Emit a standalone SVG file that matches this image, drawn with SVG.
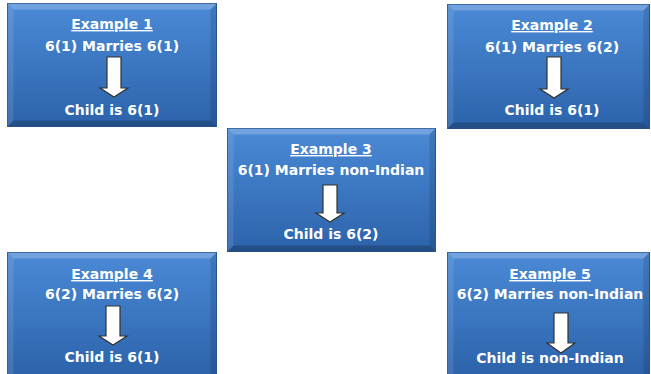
<svg xmlns="http://www.w3.org/2000/svg" width="651" height="374" viewBox="0 0 651 374">
<defs>
<linearGradient id="g" x1="0" y1="0" x2="0" y2="1">
<stop offset="0" stop-color="#4b8ad6"/>
<stop offset="1" stop-color="#2c63ab"/>
</linearGradient>
<style>
.box{fill:url(#g);stroke:#2a5a98;stroke-width:1}
.bt{fill:#ffffff;fill-opacity:0.22}
.bl{fill:#ffffff;fill-opacity:0.1}
.br{fill:#000000;fill-opacity:0.12}
.bb{fill:#000000;fill-opacity:0.22}
text{font-family:"DejaVu Sans",Verdana,sans-serif;font-weight:bold;font-size:14px;fill:#ffffff;text-anchor:middle}
.t{text-decoration:underline}
.arr{fill:#ffffff;stroke:#333333;stroke-width:1.2;stroke-linejoin:miter}
</style>
</defs>
<rect width="651" height="374" fill="#ffffff"/>
<g id="ex1">
<rect class="box" x="7.5" y="3.5" width="209" height="123"/>
<polygon class="bt" points="7.5,3.5 216.5,3.5 210.5,9.5 13.5,9.5"/>
<polygon class="bl" points="7.5,3.5 13.5,9.5 13.5,120.5 7.5,126.5"/>
<polygon class="br" points="216.5,3.5 216.5,126.5 210.5,120.5 210.5,9.5"/>
<polygon class="bb" points="7.5,126.5 13.5,120.5 210.5,120.5 216.5,126.5"/>
<text class="t" x="112" y="29">Example 1</text>
<text x="112" y="51">6(1) Marries 6(1)</text>
<path class="arr" d="M107,57 H121 V88 H128 L114,97 L100,88 H107 Z"/>
<text x="112" y="115">Child is 6(1)</text>
</g>
<g id="ex2">
<rect class="box" x="447.5" y="4.5" width="202" height="124"/>
<polygon class="bt" points="447.5,4.5 649.5,4.5 643.5,10.5 453.5,10.5"/>
<polygon class="bl" points="447.5,4.5 453.5,10.5 453.5,122.5 447.5,128.5"/>
<polygon class="br" points="649.5,4.5 649.5,128.5 643.5,122.5 643.5,10.5"/>
<polygon class="bb" points="447.5,128.5 453.5,122.5 643.5,122.5 649.5,128.5"/>
<text class="t" x="552" y="30">Example 2</text>
<text x="552" y="52">6(1) Marries 6(2)</text>
<path class="arr" d="M547,57 H561 V89 H568 L554,98 L540,89 H547 Z"/>
<text x="552" y="115">Child is 6(1)</text>
</g>
<g id="ex3">
<rect class="box" x="227.5" y="128.5" width="208" height="123"/>
<polygon class="bt" points="227.5,128.5 435.5,128.5 429.5,134.5 233.5,134.5"/>
<polygon class="bl" points="227.5,128.5 233.5,134.5 233.5,245.5 227.5,251.5"/>
<polygon class="br" points="435.5,128.5 435.5,251.5 429.5,245.5 429.5,134.5"/>
<polygon class="bb" points="227.5,251.5 233.5,245.5 429.5,245.5 435.5,251.5"/>
<text class="t" x="331" y="154">Example 3</text>
<text x="331" y="175">6(1) Marries non-Indian</text>
<path class="arr" d="M323,185 H337 V213 H344 L330,222 L316,213 H323 Z"/>
<text x="331" y="239">Child is 6(2)</text>
</g>
<g id="ex4">
<rect class="box" x="7.5" y="252.5" width="209" height="122"/>
<polygon class="bt" points="7.5,252.5 216.5,252.5 210.5,258.5 13.5,258.5"/>
<polygon class="bl" points="7.5,252.5 13.5,258.5 13.5,374 7.5,374"/>
<polygon class="br" points="216.5,252.5 216.5,374 210.5,374 210.5,258.5"/>
<text class="t" x="112" y="279">Example 4</text>
<text x="112" y="299">6(2) Marries 6(2)</text>
<path class="arr" d="M106,306 H120 V336 H127 L113,345 L99,336 H106 Z"/>
<text x="112" y="362">Child is 6(1)</text>
</g>
<g id="ex5">
<rect class="box" x="447.5" y="252.5" width="202" height="122"/>
<polygon class="bt" points="447.5,252.5 649.5,252.5 643.5,258.5 453.5,258.5"/>
<polygon class="bl" points="447.5,252.5 453.5,258.5 453.5,374 447.5,374"/>
<polygon class="br" points="649.5,252.5 649.5,374 643.5,374 643.5,258.5"/>
<text class="t" x="550" y="279">Example 5</text>
<text x="550" y="299">6(2) Marries non-Indian</text>
<path class="arr" d="M554,313 H568 V343 H575 L561,353 L547,343 H554 Z"/>
<text x="550" y="363">Child is non-Indian</text>
</g>
<g id="connectors"></g>
</svg>
